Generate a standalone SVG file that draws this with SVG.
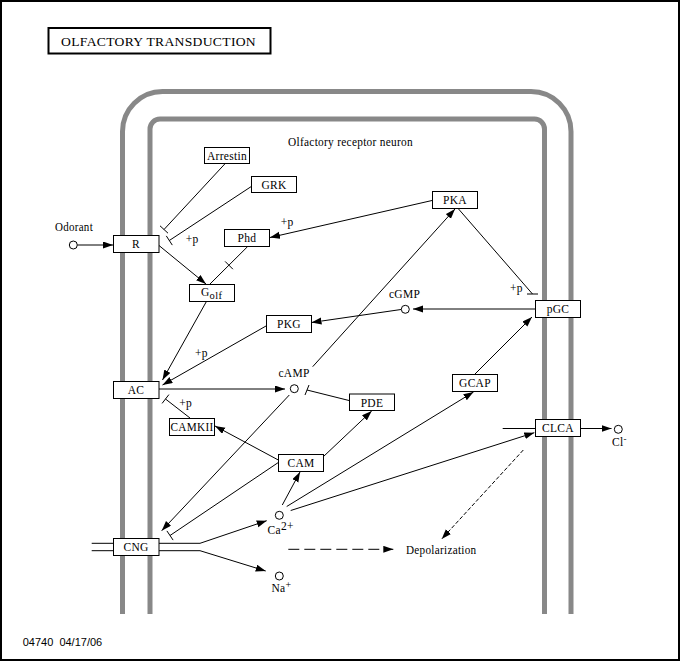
<svg xmlns="http://www.w3.org/2000/svg" width="680" height="661" viewBox="0 0 680 661">
<defs>
<marker id="arr" markerUnits="userSpaceOnUse" markerWidth="11" markerHeight="8" refX="10" refY="3.5" orient="auto"><path d="M0,0 L10,3.5 L0,7 z" fill="#000"/></marker>
<style>
.t{font-family:"Liberation Serif","Times New Roman",serif;font-size:11.5px;fill:#000;letter-spacing:0.3px}
.m{text-anchor:middle}
.box{fill:#fff;stroke:#000;stroke-width:1}
.cp{fill:#fff;stroke:#000;stroke-width:1}
.ln{fill:none;stroke:#000;stroke-width:1}
.a{marker-end:url(#arr)}
.mem{fill:none;stroke:#888;stroke-width:5}
</style>
</defs>
<rect x="1" y="1" width="678" height="659" fill="#fff" stroke="#000" stroke-width="2"/>
<g id="title">
<rect x="48.5" y="28" width="222" height="25.5" fill="#fff" stroke="#000" stroke-width="2"/>
<text class="t" x="61" y="46" style="font-size:13.5px" textLength="195" lengthAdjust="spacingAndGlyphs">OLFACTORY TRANSDUCTION</text>
</g>
<g id="membrane">
<path class="mem" d="M122.5,614 V131.5 A40,40 0 0 1 162.5,91.5 H531 A40,40 0 0 1 571,131.5 V614"/>
<path class="mem" d="M150,614 V129 A10,10 0 0 1 160,119 H534.5 A10,10 0 0 1 544.5,129 V614"/>
</g>
<text class="t" x="288" y="146" textLength="125" lengthAdjust="spacingAndGlyphs">Olfactory receptor neuron</text>
<g id="connectors">
<line class="ln a" x1="77.3" y1="245" x2="113" y2="245"/>
<line class="ln" x1="225.7" y1="163" x2="164" y2="229.5"/>
<line class="ln" x1="160" y1="225.8" x2="168" y2="233.2"/>
<line class="ln" x1="251" y1="186.7" x2="169.3" y2="240.5"/>
<line class="ln" x1="166.3" y1="235.9" x2="172.3" y2="245.1"/>
<line class="ln a" x1="159" y1="245.5" x2="206" y2="284"/>
<line class="ln" x1="247.7" y1="246.5" x2="210" y2="284"/>
<line class="ln" x1="225.1" y1="261.4" x2="232.9" y2="269.2"/>
<line class="ln a" x1="432" y1="200.5" x2="270" y2="237.5"/>
<line class="ln" x1="457.7" y1="208" x2="532.5" y2="294"/>
<line class="ln" x1="527" y1="294" x2="538" y2="294"/>
<line class="ln a" x1="312.7" y1="366.7" x2="455" y2="209"/>
<line class="ln a" x1="535" y1="309" x2="413" y2="309"/>
<line class="ln a" x1="401" y1="309.5" x2="311.5" y2="322.5"/>
<line class="ln a" x1="206.7" y1="301" x2="162.5" y2="380"/>
<line class="ln a" x1="266" y1="326" x2="162.5" y2="385"/>
<line class="ln a" x1="159" y1="389" x2="285" y2="389"/>
<line class="ln" x1="349" y1="400.5" x2="307" y2="390"/>
<line class="ln" x1="305" y1="395" x2="309" y2="385"/>
<line class="ln a" x1="289.3" y1="395" x2="161.7" y2="530.7"/>
<line class="ln" x1="190" y1="418" x2="165.5" y2="399"/>
<line class="ln" x1="162.1" y1="403.4" x2="168.9" y2="394.6"/>
<line class="ln a" x1="278.3" y1="460" x2="215" y2="426"/>
<line class="ln a" x1="323.3" y1="456.7" x2="371.7" y2="411"/>
<line class="ln" x1="278.3" y1="462.5" x2="170" y2="535.5"/>
<line class="ln" x1="166.9" y1="530.9" x2="173.1" y2="540.1"/>
<line class="ln a" x1="282.3" y1="505" x2="300" y2="472"/>
<line class="ln a" x1="286.7" y1="506.5" x2="473.5" y2="392"/>
<line class="ln a" x1="290.7" y1="510.5" x2="534.3" y2="432.7"/>
<line class="ln a" x1="475" y1="374" x2="532" y2="317"/>
<line class="ln" x1="502.7" y1="428.5" x2="535" y2="428.5"/>
<line class="ln a" x1="580" y1="428.5" x2="611.5" y2="428.5"/>
<line class="ln" x1="91.7" y1="543.3" x2="113" y2="543.3"/>
<line class="ln" x1="91.7" y1="550.7" x2="113" y2="550.7"/>
<line class="ln" x1="159" y1="543.3" x2="200" y2="543.3"/>
<line class="ln" x1="159" y1="550.7" x2="200" y2="550.7"/>
<line class="ln a" x1="200" y1="543.3" x2="266.7" y2="520.7"/>
<line class="ln a" x1="200" y1="550.7" x2="265.7" y2="571"/>
<line class="ln a" x1="288.3" y1="549.3" x2="393.3" y2="549.3" stroke-dasharray="11,5"/>
<line class="ln a" x1="523.3" y1="450" x2="441.7" y2="539" stroke-dasharray="4,2"/>
</g>
<g id="plabels">
<text class="t" x="185.7" y="243">+p</text>
<text class="t" x="280.7" y="226">+p</text>
<text class="t" x="510" y="291.7">+p</text>
<text class="t" x="195" y="357.3">+p</text>
<text class="t" x="179.3" y="406.7">+p</text>
</g>
<g id="Odorant"><circle class="cp" cx="73.3" cy="245" r="4"/><text class="t" x="55" y="230.7" textLength="38" lengthAdjust="spacingAndGlyphs">Odorant</text></g>
<g id="Arrestin"><rect class="box" x="204.5" y="147.5" width="45" height="16"/><text class="t m" x="227" y="159.5">Arrestin</text></g>
<g id="GRK"><rect class="box" x="251.5" y="176.5" width="45" height="16"/><text class="t m" x="274" y="188.5">GRK</text></g>
<g id="R"><rect class="box" x="113.5" y="235.5" width="45.5" height="17"/><text class="t m" x="136" y="248">R</text></g>
<g id="Phd"><rect class="box" x="224.5" y="229.5" width="45" height="17"/><text class="t m" x="247" y="242">Phd</text></g>
<g id="Golf"><rect class="box" x="189.5" y="284.5" width="45" height="17"/><text class="t" x="201" y="296">G<tspan dy="3" style="font-size:10.5px">olf</tspan></text></g>
<g id="PKA"><rect class="box" x="432.5" y="191.5" width="45" height="17"/><text class="t m" x="455" y="204">PKA</text></g>
<g id="pGC"><rect class="box" x="535.5" y="300.5" width="45" height="17"/><text class="t m" x="558" y="313">pGC</text></g>
<g id="cGMP"><circle class="cp" cx="405.3" cy="309.3" r="4"/><text class="t m" x="404.5" y="298">cGMP</text></g>
<g id="PKG"><rect class="box" x="266.5" y="315.5" width="45" height="17"/><text class="t m" x="289" y="328">PKG</text></g>
<g id="AC"><rect class="box" x="113.5" y="381.5" width="45.5" height="17"/><text class="t m" x="136" y="394">AC</text></g>
<g id="cAMP"><circle class="cp" cx="294.3" cy="388.7" r="4"/><text class="t m" x="294" y="377">cAMP</text></g>
<g id="PDE"><rect class="box" x="349.5" y="394" width="45" height="16.5"/><text class="t m" x="372" y="406.5">PDE</text></g>
<g id="CAMKII"><rect class="box" x="169.5" y="418.5" width="45" height="17"/><text class="t m" x="192" y="431" textLength="43" lengthAdjust="spacingAndGlyphs">CAMKII</text></g>
<g id="CAM"><rect class="box" x="278.5" y="454.5" width="45" height="17"/><text class="t m" x="301" y="467">CAM</text></g>
<g id="GCAP"><rect class="box" x="452.5" y="374.5" width="45" height="17"/><text class="t m" x="475" y="387">GCAP</text></g>
<g id="CLCA"><rect class="box" x="535.5" y="419.5" width="45" height="17"/><text class="t m" x="558" y="432">CLCA</text></g>
<g id="Cl"><circle class="cp" cx="618.3" cy="429.3" r="4"/><text class="t" x="612" y="446">Cl<tspan dy="-4" style="font-size:9px">-</tspan></text></g>
<g id="CNG"><rect class="box" x="113.5" y="538.5" width="45.5" height="17"/><text class="t m" x="136" y="551">CNG</text></g>
<g id="Ca"><circle class="cp" cx="279.3" cy="515.3" r="4"/><text class="t" x="267.5" y="533.5">Ca<tspan dy="-4">2+</tspan></text></g>
<g id="Na"><circle class="cp" cx="279.3" cy="576" r="4"/><text class="t" x="271.5" y="591.7">Na<tspan dy="-4" style="font-size:10px">+</tspan></text></g>
<g id="Depolarization"><text class="t" x="406" y="554" textLength="70.5" lengthAdjust="spacingAndGlyphs">Depolarization</text></g>
<text x="22.7" y="645.7" style="font-family:'Liberation Sans',Arial,sans-serif;font-size:11px;white-space:pre" xml:space="preserve">04740  04/17/06</text>
</svg>
